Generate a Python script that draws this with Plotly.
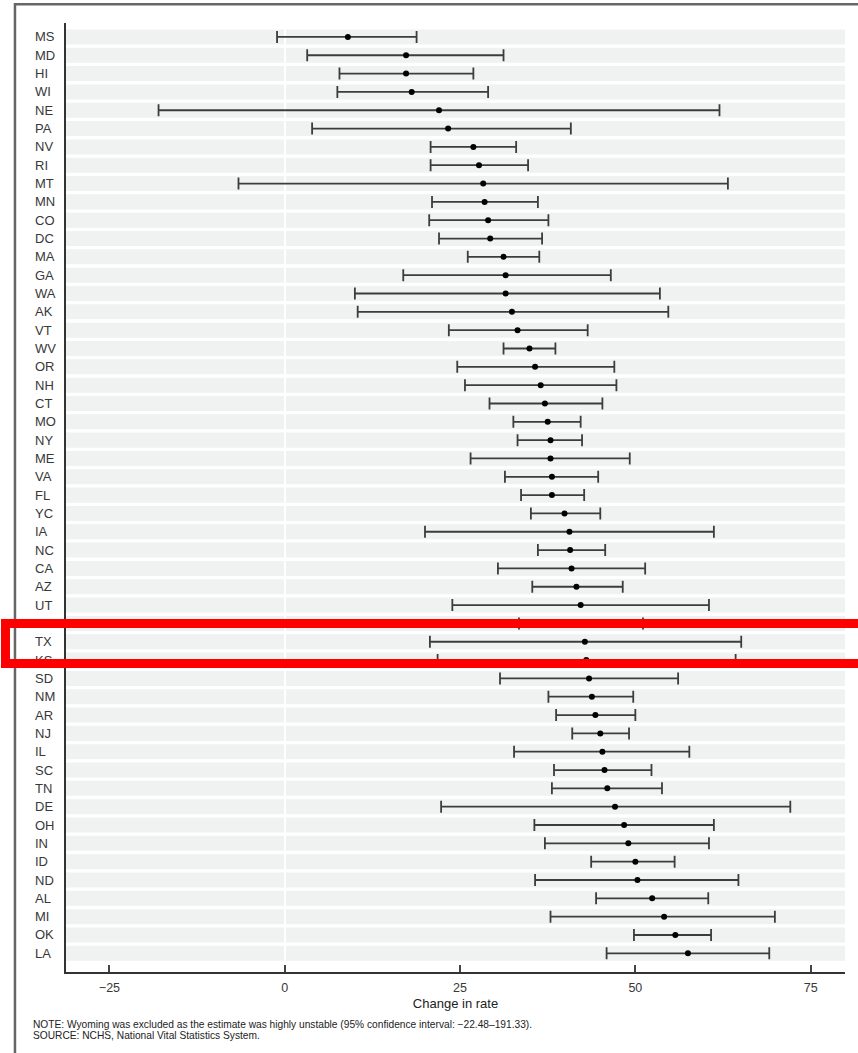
import plotly.graph_objects as go

states = ["MS", "MD", "HI", "WI", "NE", "PA", "NV", "RI", "MT", "MN", "CO", "DC", "MA",
          "GA", "WA", "AK", "VT", "WV", "OR", "NH", "CT", "MO", "NY", "ME", "VA", "FL",
          "YC", "IA", "NC", "CA", "AZ", "UT", "KY", "TX", "KS", "SD", "NM", "AR", "NJ",
          "IL", "SC", "TN", "DE", "OH", "IN", "ID", "ND", "AL", "MI", "OK", "LA"]

estimate = [9.0, 17.3, 17.3, 18.1, 22.0, 23.3, 26.9, 27.7, 28.3, 28.5, 29.0, 29.3, 31.2,
            31.5, 31.5, 32.4, 33.2, 34.9, 35.7, 36.5, 37.1, 37.5, 37.9, 37.9, 38.1, 38.1,
            39.9, 40.6, 40.7, 40.9, 41.6, 42.2, 42.3, 42.8, 43.0, 43.4, 43.8, 44.3, 45.0,
            45.3, 45.6, 46.0, 47.1, 48.4, 49.0, 50.0, 50.3, 52.4, 54.1, 55.7, 57.5]

lower = [-1.1, 3.2, 7.8, 7.5, -18.0, 3.9, 20.8, 20.8, -6.6, 21.0, 20.6, 22.0, 26.1,
         16.9, 10.0, 10.4, 23.4, 31.2, 24.6, 25.7, 29.2, 32.6, 33.2, 26.5, 31.4, 33.7,
         35.1, 20.0, 36.1, 30.4, 35.3, 23.9, 33.4, 20.7, 21.8, 30.7, 37.6, 38.7, 41.0,
         32.7, 38.4, 38.1, 22.3, 35.6, 37.1, 43.7, 35.7, 44.4, 37.9, 49.8, 45.9]

upper = [18.8, 31.2, 26.9, 29.0, 62.0, 40.8, 33.0, 34.7, 63.2, 36.1, 37.6, 36.7, 36.3,
         46.5, 53.5, 54.7, 43.2, 38.6, 47.0, 47.3, 45.3, 42.2, 42.4, 49.2, 44.7, 42.7,
         45.0, 61.2, 45.7, 51.4, 48.2, 60.5, 51.1, 65.1, 64.3, 56.1, 49.7, 50.0, 49.1,
         57.7, 52.3, 53.8, 72.1, 61.2, 60.5, 55.6, 64.7, 60.4, 69.9, 60.8, 69.1]

x_ticks = [-25, 0, 25, 50, 75]
x_title = "Change in rate"
note_text = "NOTE: Wyoming was excluded as the estimate was highly unstable (95% confidence interval: \u221222.48\u2013191.33)."
source_text = "SOURCE: NCHS, National Vital Statistics System."

FONT = "Liberation Sans, Arial, Helvetica, sans-serif"
TXT = "#383838"

err_plus = [u - e for u, e in zip(upper, estimate)]
err_minus = [e - l for e, l in zip(estimate, lower)]

fig = go.Figure()
fig.add_trace(go.Scatter(
    x=estimate, y=states, mode="markers",
    marker=dict(color="black", size=6),
    error_x=dict(type="data", symmetric=False, array=err_plus, arrayminus=err_minus,
                 color="#3c3c3c", thickness=1.8, width=6),
    showlegend=False, hoverinfo="skip",
))

shapes = []
for i, s in enumerate(states):
    shapes.append(dict(type="rect", xref="x domain", yref="y", x0=0, x1=1,
                       y0=i - 0.41, y1=i + 0.41, fillcolor="#f0f1f1",
                       line=dict(width=0), layer="below"))
# outer frame of the page
shapes.append(dict(type="rect", xref="paper", yref="paper", x0=-0.0655, x1=1.2,
                   y0=-0.3, y1=1.0197, line=dict(color="#666666", width=2.5),
                   fillcolor="rgba(0,0,0,0)", layer="above"))

annotations = []
for s in states:
    annotations.append(dict(text=s, xref="paper", yref="y", x=-0.0424, y=s,
                            xanchor="left", yanchor="middle", showarrow=False,
                            font=dict(family=FONT, size=13, color=TXT)))
annotations.append(dict(text=note_text, xref="paper", yref="paper", x=-0.0449, y=-0.0548,
                        xanchor="left", yanchor="middle", showarrow=False,
                        font=dict(family=FONT, size=10.2, color="#222222")))
annotations.append(dict(text=source_text, xref="paper", yref="paper", x=-0.0449, y=-0.0674,
                        xanchor="left", yanchor="middle", showarrow=False,
                        font=dict(family=FONT, size=10.2, color="#222222")))
# red highlight box
annotations.append(dict(text=" ", xref="paper", yref="paper", x=0.4801, y=0.3463,
                        xanchor="center", yanchor="middle", showarrow=False,
                        width=860, height=30.5, borderwidth=9, borderpad=0,
                        bordercolor="#ff0000", bgcolor="rgba(0,0,0,0)",
                        font=dict(size=1)))

fig.update_layout(
    width=858, height=1053,
    margin=dict(l=66, r=13, t=23, b=81, pad=0),
    plot_bgcolor="white", paper_bgcolor="white",
    font=dict(family=FONT, color=TXT),
    shapes=shapes, annotations=annotations,
    xaxis=dict(range=[-31.2, 79.9], tickvals=x_ticks, showgrid=False,
               zeroline=True, zerolinecolor="white", zerolinewidth=1.5,
               showline=True, linecolor="#333333", linewidth=2,
               ticks="inside", ticklen=7, tickwidth=1.5, tickcolor="#444444",
               ticklabelstandoff=3,
               tickfont=dict(family=FONT, size=12.5, color=TXT),
               title=dict(text=x_title, font=dict(family=FONT, size=13, color="#222222"),
                          standoff=5)),
    yaxis=dict(type="category", categoryorder="array", categoryarray=states,
               range=[51.02, -0.76], showticklabels=False, showgrid=False,
               zeroline=False, showline=True, linecolor="#333333", linewidth=2,
               ticks=""),
)

fig.write_html("out.html", config={"displayModeBar": False},
               post_script="document.body.style.margin='0';")
